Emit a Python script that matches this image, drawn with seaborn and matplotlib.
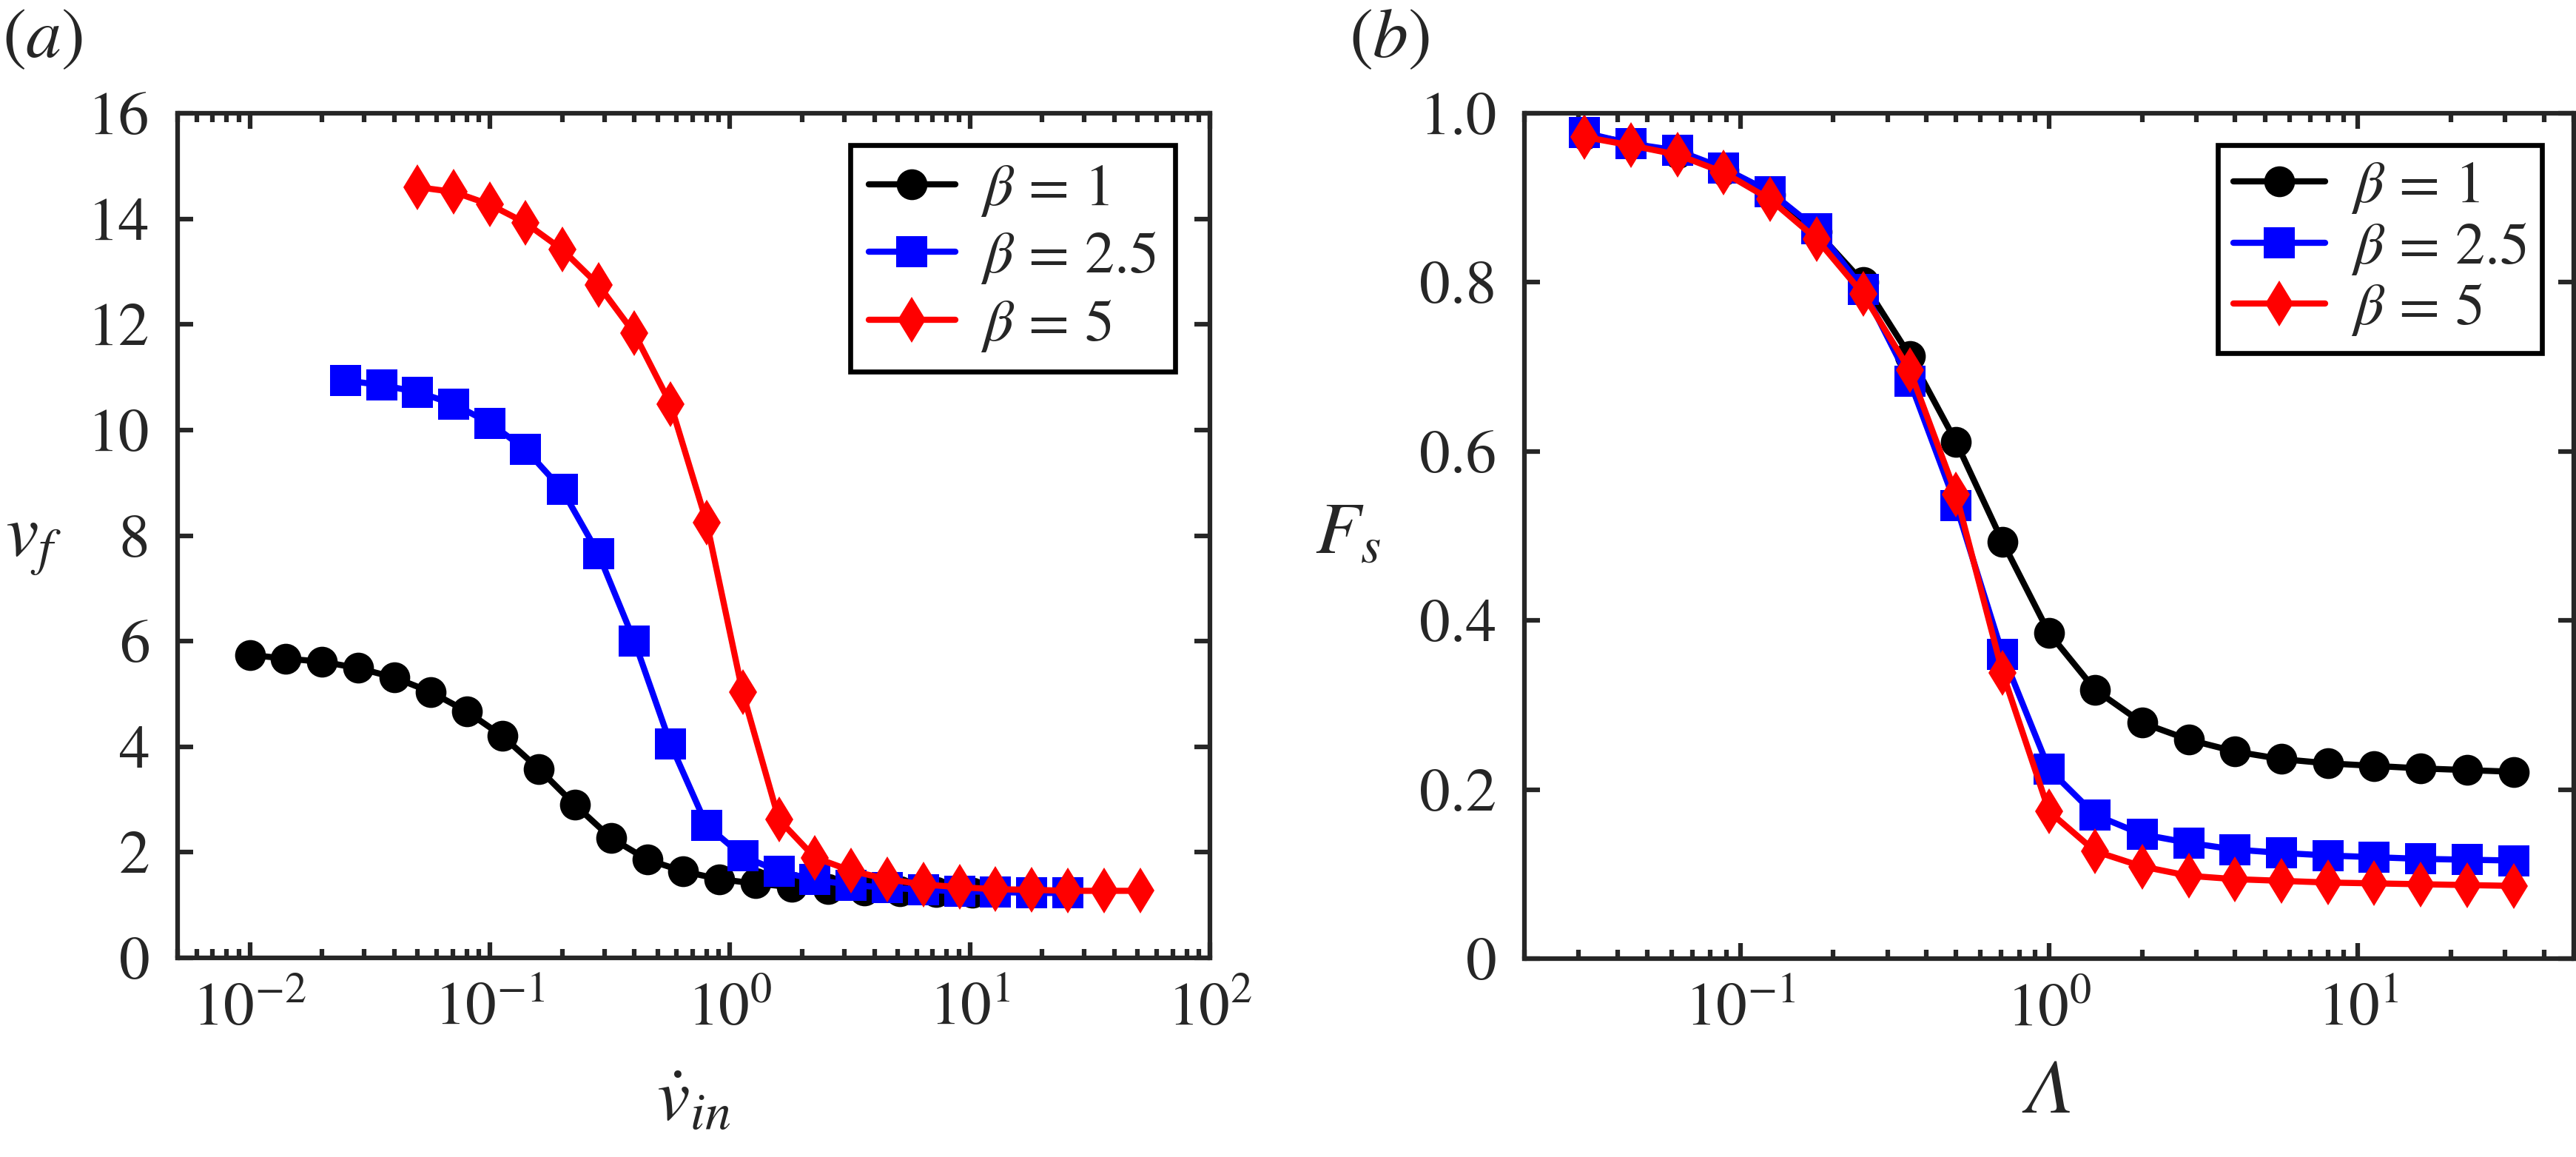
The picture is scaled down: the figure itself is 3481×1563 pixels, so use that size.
#!/usr/bin/env python3
"""Two-panel log-x line chart: v_f against v_in (a) and F_s against Lambda (b)."""

import numpy as np
import pandas as pd
import matplotlib
matplotlib.use("Agg")
import matplotlib.pyplot as plt
from matplotlib.ticker import LogLocator, FixedLocator, FixedFormatter, NullFormatter
import seaborn as sns

# ---- panel (a) data ----
vin_b1 = [0.01, 0.0141, 0.02, 0.0283, 0.04, 0.0566, 0.08, 0.113, 0.16, 0.226, 0.32,
          0.453, 0.64, 0.905, 1.28, 1.81, 2.56, 3.62, 5.12, 7.24, 10.24]
vf_b1 = [5.74, 5.67, 5.61, 5.49, 5.31, 5.04, 4.67, 4.20, 3.58, 2.90, 2.27,
         1.86, 1.64, 1.49, 1.41, 1.34, 1.30, 1.27, 1.26, 1.25, 1.23]

vin_b25 = [0.025, 0.0354, 0.05, 0.0707, 0.1, 0.141, 0.2, 0.283, 0.4, 0.566, 0.8,
           1.13, 1.6, 2.26, 3.2, 4.53, 6.4, 9.05, 12.8, 18.1, 25.6]
vf_b25 = [10.94, 10.85, 10.72, 10.49, 10.13, 9.63, 8.87, 7.66, 6.00, 4.05, 2.51,
          1.93, 1.64, 1.48, 1.38, 1.33, 1.29, 1.26, 1.25, 1.23, 1.23]

vin_b5 = [0.05, 0.0707, 0.1, 0.141, 0.2, 0.283, 0.4, 0.566, 0.8, 1.13, 1.6,
          2.26, 3.2, 4.53, 6.4, 9.05, 12.8, 18.1, 25.6, 36.2, 51.2]
vf_b5 = [14.60, 14.51, 14.27, 13.92, 13.42, 12.75, 11.83, 10.49, 8.25, 5.03, 2.62,
         1.90, 1.65, 1.49, 1.39, 1.34, 1.30, 1.29, 1.27, 1.27, 1.27]

# ---- panel (b) data ----
lam = [0.03125, 0.0442, 0.0625, 0.0884, 0.125, 0.177, 0.25, 0.354, 0.5, 0.707, 1.0,
       1.41, 2.0, 2.83, 4.0, 5.66, 8.0, 11.3, 16.0, 22.6, 32.0]
fs_b1 = [0.975, 0.965, 0.953, 0.933, 0.904, 0.860, 0.800, 0.713, 0.611, 0.493, 0.385,
         0.318, 0.279, 0.259, 0.245, 0.236, 0.231, 0.228, 0.225, 0.223, 0.221]
fs_b25 = [0.977, 0.964, 0.956, 0.935, 0.907, 0.863, 0.792, 0.683, 0.536, 0.360, 0.224,
          0.170, 0.147, 0.137, 0.129, 0.125, 0.122, 0.120, 0.118, 0.117, 0.116]
fs_b5 = [0.972, 0.962, 0.951, 0.930, 0.898, 0.851, 0.786, 0.696, 0.549, 0.338, 0.174,
         0.127, 0.109, 0.098, 0.094, 0.092, 0.090, 0.089, 0.088, 0.087, 0.086]

beta_labels = [r'$\beta\,=\,1$', r'$\beta\,=\,2.5$', r'$\beta\,=\,5$']
colors = ['#000000', '#0000ff', '#ff0000']
markers = ['o', 's', 'd']
fs_ticks = [0, 0.2, 0.4, 0.6, 0.8, 1.0]
fs_ticklabels = ['0', '0.2', '0.4', '0.6', '0.8', '1.0']

sns.set_style('ticks')
plt.rcParams['font.family'] = ['STIXGeneral', 'DejaVu Serif']
plt.rcParams['mathtext.fontset'] = 'stix'
plt.rcParams['axes.linewidth'] = 1.5

W, H = 3481, 1563
fig = plt.figure(figsize=(W / 300, H / 300), dpi=300)
ax_a = fig.add_axes([240 / W, 1 - 1294 / H, 1395 / W, 1141 / H])
ax_b = fig.add_axes([2060 / W, 1 - 1295 / H, 1418 / W, 1142 / H])


def draw_series(ax, xs, ys):
    for x, y, c, m, lab in zip(xs, ys, colors, markers, beta_labels):
        df = pd.DataFrame({'x': x, 'y': y})
        sns.lineplot(data=df, x='x', y='y', ax=ax, color=c, marker=m,
                     markersize=10 if m != 'd' else 10.5, markeredgecolor=c,
                     markeredgewidth=0, linewidth=2.0, label=lab, sort=True)


def style_axis(ax):
    ax.set_xscale('log')
    ax.tick_params(which='both', direction='in', top=True, right=True,
                   labelsize=20, width=1.5)
    ax.tick_params(which='major', length=5)
    ax.tick_params(which='minor', length=2.8)
    ax.tick_params(axis='x', pad=8)
    ax.tick_params(axis='y', pad=9)
    ax.xaxis.set_minor_locator(LogLocator(base=10, subs=np.arange(2, 10), numticks=20))
    ax.xaxis.set_minor_formatter(NullFormatter())


draw_series(ax_a, [vin_b1, vin_b25, vin_b5], [vf_b1, vf_b25, vf_b5])
draw_series(ax_b, [lam, lam, lam], [fs_b1, fs_b25, fs_b5])

for ax in (ax_a, ax_b):
    style_axis(ax)

ax_a.set_xlim(0.005, 100)
ax_a.set_ylim(0, 16)
ax_a.set_yticks(np.arange(0, 17, 2))
ax_a.xaxis.set_major_locator(FixedLocator([1e-2, 1e-1, 1e0, 1e1, 1e2]))

ax_b.set_xlim(0.02, 50)
ax_b.set_ylim(0, 1)
ax_b.yaxis.set_major_locator(FixedLocator(fs_ticks))
ax_b.yaxis.set_major_formatter(FixedFormatter(fs_ticklabels))
ax_b.xaxis.set_major_locator(FixedLocator([1e-1, 1e0, 1e1]))

ax_a.set_xlabel(r'$\dot{v}_{in}$', fontsize=24, va='center')
ax_a.set_ylabel(r'$v_f$', fontsize=24, rotation=0, va='center')
ax_a.xaxis.set_label_coords(0.5, -0.172)
ax_a.yaxis.set_label_coords(-0.14, 0.49)

ax_b.set_xlabel('Λ', fontsize=25, fontstyle='italic', family='STIXGeneral', va='center')
ax_b.set_ylabel(r'$F_s$', fontsize=24, rotation=0, va='center')
ax_b.xaxis.set_label_coords(0.5, -0.16)
ax_b.yaxis.set_label_coords(-0.168, 0.5)

# legend frames: (a) 1142-1588 x 196-510 px, (b) 2967-3435 x 196-485 px
legend_opts = [
    (ax_a, (0.966, 0.962), 0.19, 0.31, 1.47, 0.42),
    (ax_b, (0.970, 0.962), 0.08, 0.26, 1.55, 0.44),
]
for ax, anchor, spacing, pad, hlen, tpad in legend_opts:
    leg = ax.legend(loc='upper right', bbox_to_anchor=anchor, borderaxespad=0,
                    fontsize=19.2, frameon=True, fancybox=False, framealpha=1,
                    edgecolor='black', handlelength=hlen, handletextpad=tpad,
                    labelspacing=spacing, borderpad=pad)
    leg.get_frame().set_linewidth(1.6)

fig.text(3 / W, 1 - 12 / H, r'$(a)$', fontsize=23, ha='left', va='top')
fig.text(1823 / W, 1 - 12 / H, r'$(b)$', fontsize=23, ha='left', va='top')

fig.savefig('out.png', dpi=300)
